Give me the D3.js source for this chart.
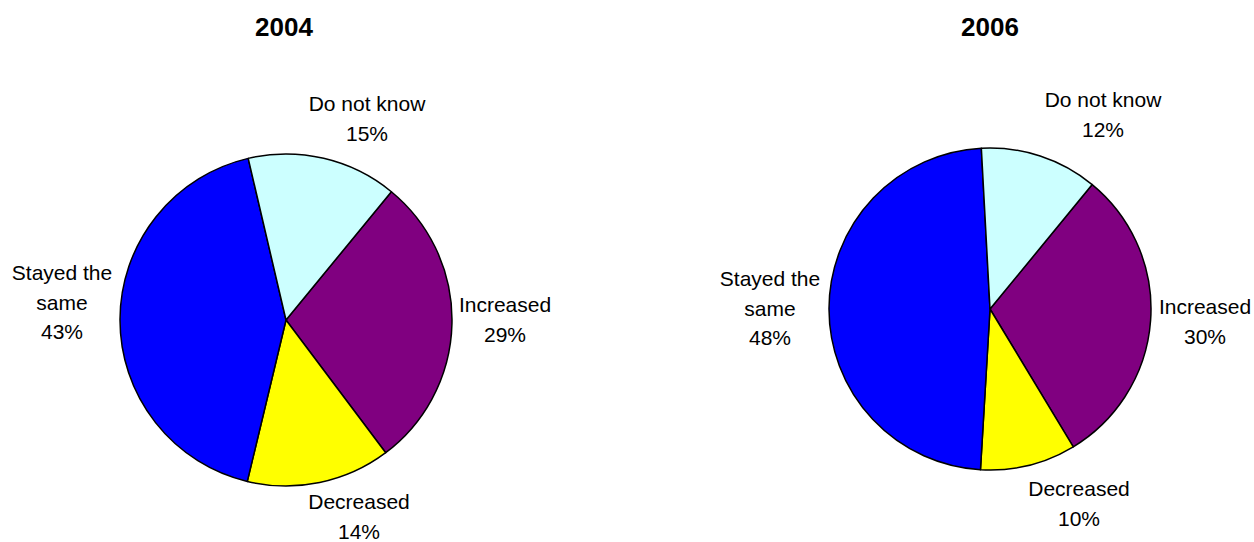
<!DOCTYPE html>
<html>
<head>
<meta charset="utf-8">
<script src="https://cdn.jsdelivr.net/npm/d3@7"></script>
<style>
  body { margin: 0; background: #fff; }
  svg text { font-family: "Liberation Sans", Arial, sans-serif; fill: #000; }
</style>
</head>
<body>
<div id="chart"></div>
<script>
// data (percent shares)
var categories = ["Increased", "Decreased", "Stayed the same", "Do not know"];
var values2004 = [28.8, 14.0, 42.6, 14.6];
var values2006 = [30.4, 9.6, 48.2, 11.8];
var years = ["2004", "2006"];
var sliceColors = ["#800080", "#FFFF00", "#0000FF", "#CCFFFF"];

// label lines (category name split the way the chart wraps it)
var labelLines = [["Increased"], ["Decreased"], ["Stayed the", "same"], ["Do not know"]];

var width = 1254, height = 542;

// layout for each pie: centre, radius, title x, and where each label block sits
var pies = [
    {title: years[0], values: values2004, cx: 286, cy: 320, r: 166, tx: 284,
     labels: [[505, 312], [359, 509], [62, 280], [367, 111]]},
    {title: years[1], values: values2006, cx: 990, cy: 309, r: 161, tx: 990,
     labels: [[1205, 314], [1079, 496], [770, 286], [1103, 107]]}
];

var lineH = 29.5;
var startAngle = 39.4 * Math.PI / 180;

var svg = d3.select("#chart").append("svg")
    .attr("width", width)
    .attr("height", height);

var pie = d3.pie()
    .sort(null)
    .value(function(d) { return d; })
    .startAngle(startAngle)
    .endAngle(startAngle + 2 * Math.PI);

pies.forEach(function(p) {
    var g = svg.append("g")
        .attr("transform", "translate(" + p.cx + "," + p.cy + ")");

    var arc = d3.arc().innerRadius(0).outerRadius(p.r);
    var total = d3.sum(p.values);

    g.selectAll("path")
        .data(pie(p.values))
        .enter()
        .append("path")
        .attr("d", arc)
        .attr("fill", function(d, i) { return sliceColors[i]; })
        .attr("stroke", "#000")
        .attr("stroke-width", 1.5)
        .attr("stroke-linejoin", "round");

    // title
    svg.append("text")
        .attr("x", p.tx)
        .attr("y", 36)
        .attr("text-anchor", "middle")
        .style("font-size", "26px")
        .style("font-weight", "bold")
        .text(p.title);

    // data labels: name + percent
    p.values.forEach(function(v, i) {
        var lines = labelLines[i].concat([Math.round(v / total * 100) + "%"]);
        var t = svg.append("text")
            .attr("text-anchor", "middle")
            .style("font-size", "21px");
        lines.forEach(function(s, j) {
            t.append("tspan")
                .attr("x", p.labels[i][0])
                .attr("y", p.labels[i][1] + j * lineH)
                .text(s);
        });
    });
});
</script>
</body>
</html>
